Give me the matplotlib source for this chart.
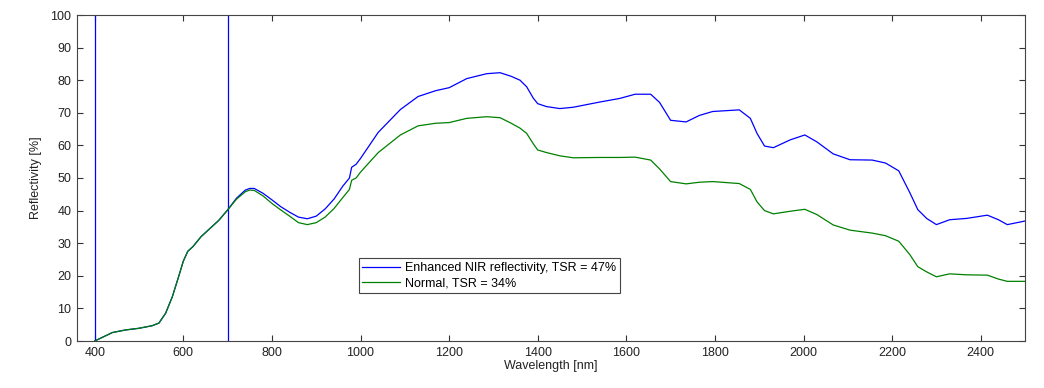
import matplotlib
matplotlib.use("Agg")
import matplotlib.pyplot as plt

# wavelength grid [nm]
wavelength = [400, 420, 440, 470, 500, 530, 545, 560, 575, 590, 600, 610, 622, 640,
              660, 680, 700, 720, 740, 750, 760, 780, 800, 820, 840, 860, 880, 900,
              920, 940, 960, 975, 980, 990, 1000, 1040, 1090, 1130, 1170, 1200, 1240,
              1285, 1315, 1340, 1360, 1375, 1390, 1400, 1420, 1450, 1480, 1540, 1585,
              1620, 1655, 1675, 1700, 1735, 1765, 1795, 1855, 1880, 1895, 1912, 1932,
              1970, 2003, 2030, 2067, 2105, 2155, 2185, 2215, 2240, 2258, 2278, 2300,
              2330, 2368, 2415, 2440, 2460, 2500]

enhanced = [0.0, 1.3, 2.6, 3.4, 3.9, 4.7, 5.5, 8.5, 13.5, 20.0, 24.5, 27.5, 29.0, 32.0,
            34.5, 37.0, 40.2, 43.8, 46.3, 46.8, 46.8, 45.3, 43.3, 41.2, 39.5, 38.0, 37.5, 38.3,
            40.5, 43.5, 47.5, 50.0, 53.3, 54.2, 56.0, 64.0, 71.0, 75.0, 76.8, 77.7, 80.5,
            82.0, 82.3, 81.2, 80.0, 78.0, 74.5, 72.8, 71.9, 71.3, 71.7, 73.3, 74.4,
            75.7, 75.7, 73.2, 67.7, 67.2, 69.2, 70.4, 70.9, 68.3, 63.7, 59.8, 59.3,
            61.7, 63.2, 61.1, 57.4, 55.6, 55.5, 54.6, 52.2, 45.5, 40.3, 37.6, 35.7,
            37.2, 37.6, 38.6, 37.2, 35.7, 36.8]

normal = [0.0, 1.3, 2.6, 3.4, 3.9, 4.7, 5.5, 8.5, 13.5, 20.0, 24.5, 27.5, 29.0, 32.0,
          34.5, 37.0, 40.2, 43.5, 45.8, 46.3, 46.2, 44.5, 42.2, 40.2, 38.3, 36.3, 35.7, 36.3,
          38.0, 40.6, 44.0, 46.5, 49.3, 50.0, 51.8, 57.8, 63.2, 66.0, 66.8, 67.0, 68.3,
          68.8, 68.5, 66.8, 65.3, 63.7, 60.5, 58.6, 57.8, 56.8, 56.2, 56.3, 56.3,
          56.4, 55.5, 52.8, 48.9, 48.2, 48.7, 48.9, 48.3, 46.5, 42.7, 40.0, 39.0,
          39.8, 40.4, 38.8, 35.6, 34.0, 33.1, 32.3, 30.6, 26.5, 22.8, 21.2, 19.7,
          20.6, 20.3, 20.2, 19.0, 18.3, 18.3]

labels = ["Enhanced NIR reflectivity, TSR = 47%", "Normal, TSR = 34%"]
band_edges = [400, 700]

plt.rcParams['font.family'] = ['Liberation Sans', 'DejaVu Sans']
plt.rcParams['font.size'] = 9

fig = plt.figure(figsize=(10.44, 3.88), dpi=100)
ax = fig.add_axes([77 / 1044, 47 / 388, 948 / 1044, 326 / 388])

for x in band_edges:
    ax.axvline(x, color=(0, 0, 1), lw=0.9)

ax.plot(wavelength, enhanced, color=(0, 0, 1), lw=0.9, label=labels[0])
ax.plot(wavelength, normal, color=(0, 0.5, 0), lw=0.9, label=labels[1])

ax.set_xlim(360, 2500)
ax.set_ylim(0, 100)
ax.set_xticks(range(400, 2401, 200))
ax.set_yticks(range(0, 101, 10))
ax.tick_params(direction='in', length=4, width=0.8, top=True, right=True,
               colors='#333333', labelcolor='#222222', pad=4)
for s in ax.spines.values():
    s.set_color('#444444')
    s.set_linewidth(0.8)

ax.set_xlabel("Wavelength [nm]", labelpad=1, color='#222222')
ax.set_ylabel("Reflectivity [%]", labelpad=6, color='#222222')

leg = ax.legend(loc='lower left', bbox_to_anchor=(0.297, 0.147), borderaxespad=0,
                fancybox=False, edgecolor='#444444', framealpha=1,
                handlelength=3.0, handletextpad=0.4, borderpad=0.3, labelspacing=0.25)
leg.get_frame().set_linewidth(0.8)

fig.savefig("out.png", dpi=100)
